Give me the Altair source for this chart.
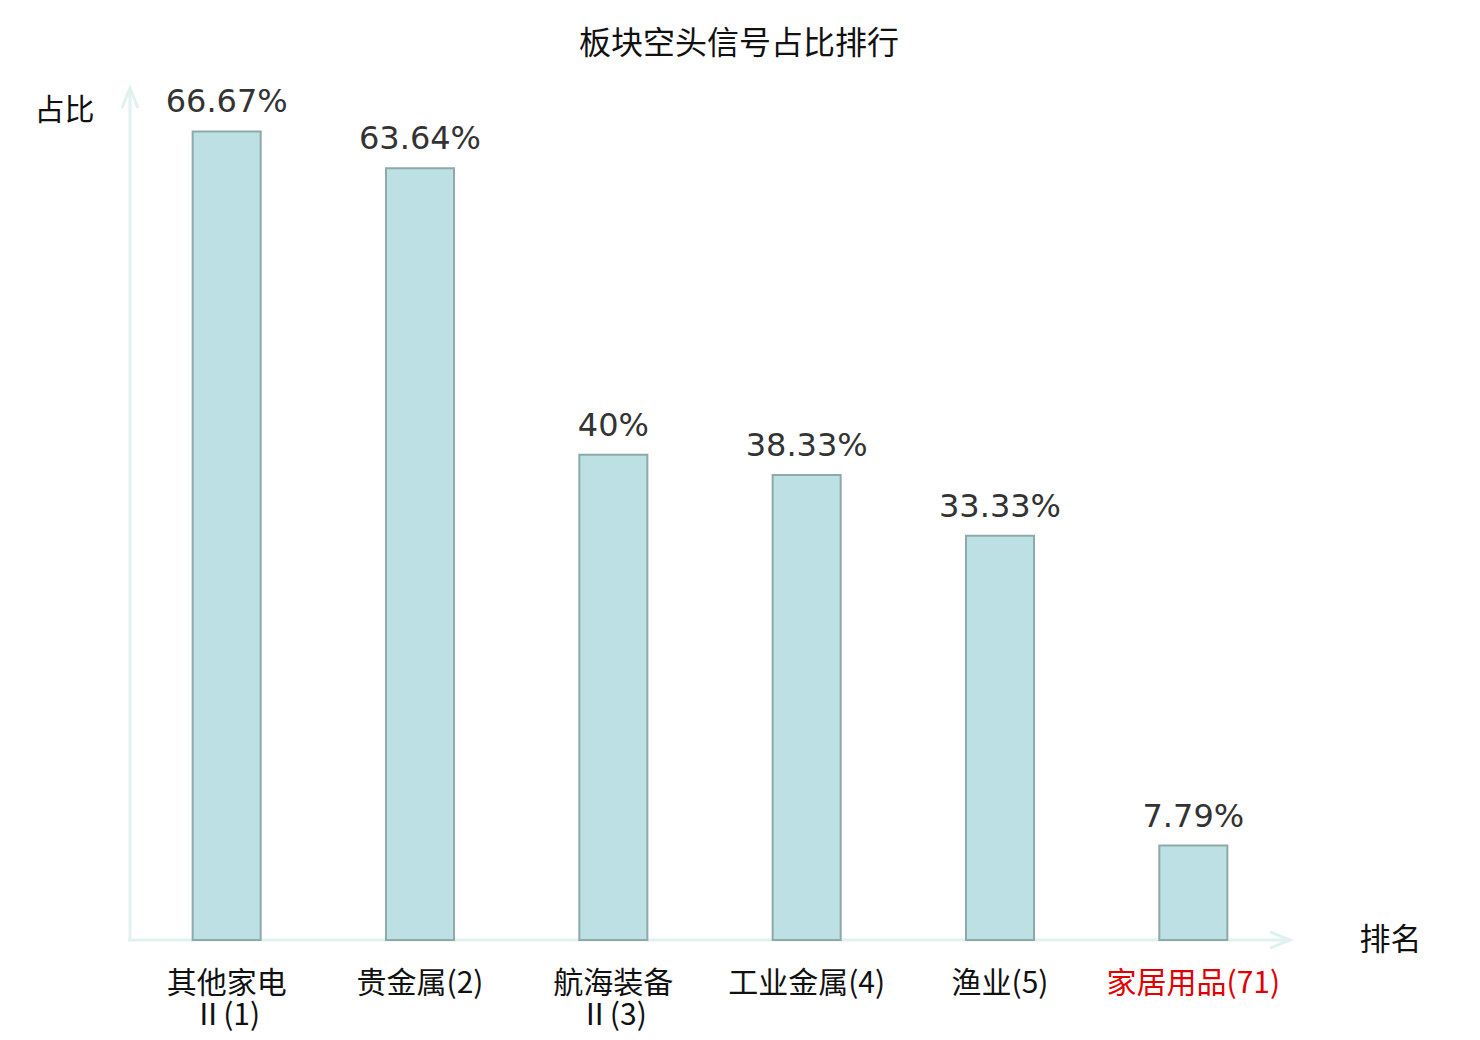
import altair as alt
import pandas as pd

categories = ["其他家电\nⅡ(1)", "贵金属(2)", "航海装备\nⅡ(3)", "工业金属(4)", "渔业(5)", "家居用品(71)"]
values = [66.67, 63.64, 40.0, 38.33, 33.33, 7.79]
value_labels = ["66.67%", "63.64%", "40%", "38.33%", "33.33%", "7.79%"]

df = pd.DataFrame({"cat": categories, "val": values, "lab": value_labels})

CJK = "Noto Sans CJK SC"
AXIS_COLOR = "#dff2ef"

x_enc = alt.X(
    "cat:N",
    sort=None,
    scale=alt.Scale(paddingInner=0.648, paddingOuter=0.324),
    axis=alt.Axis(
        title="排名",
        titleX=1260,
        titleY=0,
        titleAngle=0,
        titleAlign="center",
        titleBaseline="middle",
        titleFont=CJK,
        titleFontSize=31,
        titleFontWeight="normal",
        titleColor="#111111",
        labelAngle=0,
        labelFont=CJK,
        labelFontSize=30,
        labelColor=alt.expr("indexof(datum.value, '家居用品') >= 0 ? '#e00000' : '#111111'"),
        labelExpr="split(datum.label, '\\n')",
        labelLineHeight=32,
        labelPadding=28,
        labelBaseline="top",
        labelLimit=300,
        labelOverlap=False,
        ticks=False,
        domain=False,
        grid=False,
    ),
)

y_enc = alt.Y(
    "val:Q",
    scale=alt.Scale(domain=[0, 70], nice=False, zero=True),
    axis=alt.Axis(
        title="占比",
        titleAngle=0,
        titleX=-66,
        titleY=19,
        titleAlign="center",
        titleBaseline="middle",
        titleFont=CJK,
        titleFontSize=30,
        titleFontWeight="normal",
        titleColor="#111111",
        labels=False,
        ticks=False,
        domain=False,
        grid=False,
    ),
)

bars = alt.Chart(df).mark_bar(
    fill="#bce0e3", stroke="#8fa9a9", strokeWidth=2
).encode(x=x_enc, y=y_enc)

texts = alt.Chart(df).mark_text(
    baseline="bottom", dy=-12, fontSize=32, font="DejaVu Sans", color="#333333"
).encode(x=alt.X("cat:N", sort=None), y="val:Q", text="lab:N")

y_axis_line = alt.Chart(df.head(1)).mark_rule(
    color=AXIS_COLOR, strokeWidth=3
).encode(x=alt.value(0), y=alt.value(850), y2=alt.value(-3))

x_axis_line = alt.Chart(df.head(1)).mark_rule(
    color=AXIS_COLOR, strokeWidth=3
).encode(x=alt.value(-2), x2=alt.value(1160), y=alt.value(849))

y_arrow = alt.Chart(df.head(1)).mark_point(
    shape="M-0.8,2L0,0L0.8,2", filled=False, stroke=AXIS_COLOR, strokeWidth=3, size=400, opacity=1
).encode(x=alt.value(0), y=alt.value(-3))

x_arrow = alt.Chart(df.head(1)).mark_point(
    shape="M-2,-0.8L0,0L-2,0.8", filled=False, stroke=AXIS_COLOR, strokeWidth=3, size=400, opacity=1
).encode(x=alt.value(1160), y=alt.value(849))

chart = alt.layer(
    y_axis_line, x_axis_line, y_arrow, x_arrow, bars, texts
).properties(
    width=1160,
    height=849,
    title=alt.TitleParams(
        "板块空头信号占比排行",
        font=CJK,
        fontSize=32,
        fontWeight="normal",
        color="#111111",
        anchor="middle",
        dx=29,
        offset=21,
    ),
    autosize=alt.AutoSizeParams(type="none"),
    padding={"left": 122, "top": 83, "right": 182, "bottom": 92},
).configure_view(stroke=None)

chart.save("out.html", embed_options={"renderer": "svg", "actions": False})
